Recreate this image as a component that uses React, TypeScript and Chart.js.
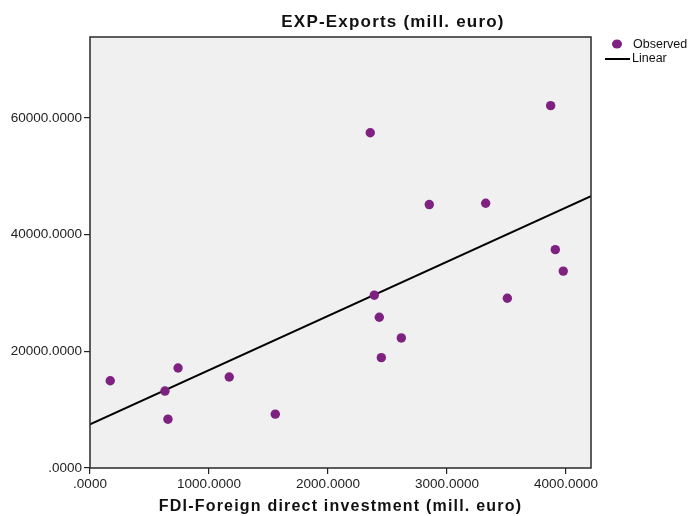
import React, { useEffect, useRef } from "react";
import { Chart, registerables } from "chart.js";

Chart.register(...registerables);

const fdiValues = [170, 740, 630, 1170, 655, 1557, 2355, 3871, 2851, 3325, 3910, 3977, 3507, 2389, 2431, 2616, 2448];
const expValues = [14960, 17150, 13190, 15600, 8370, 9230, 57490, 62130, 45170, 45400, 37440, 33760, 29110, 29630, 25850, 22300, 18920];
const linearX = [0, 4210];
const linearY = [7500, 46600];
const xTicks = [0, 1000, 2000, 3000, 4000];
const yTicks = [0, 20000, 40000, 60000];
const xMax = 4210;
const yMax = 73900;

const titleText = "EXP-Exports (mill. euro)";
const xTitleText = "FDI-Foreign direct investment (mill. euro)";
const legendLabels = ["Observed", "Linear"];

const fmt = (v: number) => (v === 0 ? ".0000" : v.toFixed(4));

export default function App() {
  const ref = useRef<HTMLCanvasElement | null>(null);
  useEffect(() => {
    if (!ref.current) return;
    const purple = "#7e2180";
    const fam = "'Liberation Sans', Arial, sans-serif";
    const decor = {
      id: "decor",
      beforeDraw(chart: any) {
        const { ctx, chartArea: a } = chart;
        ctx.save();
        ctx.fillStyle = "#ffffff";
        ctx.fillRect(0, 0, chart.width, chart.height);
        ctx.fillStyle = "#f0f0f0";
        ctx.fillRect(a.left, a.top, a.right - a.left, a.bottom - a.top);
        ctx.restore();
      },
      afterDraw(chart: any) {
        const { ctx, chartArea: a } = chart;
        ctx.save();
        ctx.strokeStyle = "#2a2a2a";
        ctx.lineWidth = 1.5;
        ctx.strokeRect(a.left, a.top, a.right - a.left, a.bottom - a.top);
        const cx = (a.left + a.right) / 2;
        ctx.fillStyle = "#111";
        ctx.textAlign = "center";
        ctx.textBaseline = "middle";
        ctx.font = `bold 17px ${fam}`;
        (ctx as any).letterSpacing = "1.2px";
        ctx.fillText(titleText, 393, 22);
        ctx.font = `bold 16px ${fam}`;
        (ctx as any).letterSpacing = "1.2px";
        ctx.fillText(xTitleText, cx, 507);
        (ctx as any).letterSpacing = "0px";
        // legend
        ctx.textAlign = "left";
        ctx.font = `12.5px ${fam}`;
        ctx.fillStyle = purple;
        ctx.beginPath();
        ctx.ellipse(617, 44, 5, 4.5, 0, 0, Math.PI * 2);
        ctx.fill();
        ctx.fillStyle = "#111";
        ctx.fillText(legendLabels[0], 633, 45);
        ctx.strokeStyle = "#000";
        ctx.lineWidth = 2;
        ctx.beginPath();
        ctx.moveTo(605, 59);
        ctx.lineTo(630, 59);
        ctx.stroke();
        ctx.fillText(legendLabels[1], 632, 59);
        ctx.restore();
      },
    };
    const chart = new Chart(ref.current, {
      type: "scatter",
      data: {
        datasets: [
          {
            type: "scatter",
            label: legendLabels[0],
            data: fdiValues.map((x, i) => ({ x, y: expValues[i] })),
            backgroundColor: purple,
            borderColor: purple,
            pointRadius: 4.7,
            pointBorderWidth: 0,
          } as any,
          {
            type: "line",
            label: legendLabels[1],
            data: linearX.map((x, i) => ({ x, y: linearY[i] })),
            borderColor: "#000",
            borderWidth: 2,
            pointRadius: 0,
            fill: false,
          } as any,
        ],
      },
      options: {
        animation: false,
        responsive: false,
        maintainAspectRatio: false,
        layout: { padding: { top: 37, right: 101, left: 0, bottom: 0 } },
        plugins: { legend: { display: false }, title: { display: false }, tooltip: { enabled: false } },
        scales: {
          x: {
            type: "linear",
            min: 0,
            max: xMax,
            afterFit: (s: any) => { s.height = 48; },
            afterBuildTicks: (s: any) => { s.ticks = xTicks.map((v) => ({ value: v })); },
            grid: { drawOnChartArea: false, drawTicks: true, tickLength: 6, color: "#222", lineWidth: 1.2 },
            border: { display: false },
            ticks: {
              callback: (v: any) => fmt(Number(v)),
              color: "#222",
              padding: 2,
              maxRotation: 0,
              font: { size: 13.5, family: fam },
            },
          },
          y: {
            type: "linear",
            min: 0,
            max: yMax,
            afterFit: (s: any) => { s.width = 90; },
            afterBuildTicks: (s: any) => { s.ticks = yTicks.map((v) => ({ value: v })); },
            grid: { drawOnChartArea: false, drawTicks: true, tickLength: 6, color: "#222", lineWidth: 1.2 },
            border: { display: false },
            ticks: {
              callback: (v: any) => fmt(Number(v)),
              color: "#222",
              padding: 2,
              font: { size: 13.5, family: fam },
            },
          },
        },
      } as any,
      plugins: [decor],
    });
    return () => chart.destroy();
  }, []);
  return (
    <div style={{ position: "fixed", left: 0, top: 0, width: 692, height: 516 }}>
      <canvas ref={ref} width={692} height={516} style={{ width: 692, height: 516 }} />
    </div>
  );
}
